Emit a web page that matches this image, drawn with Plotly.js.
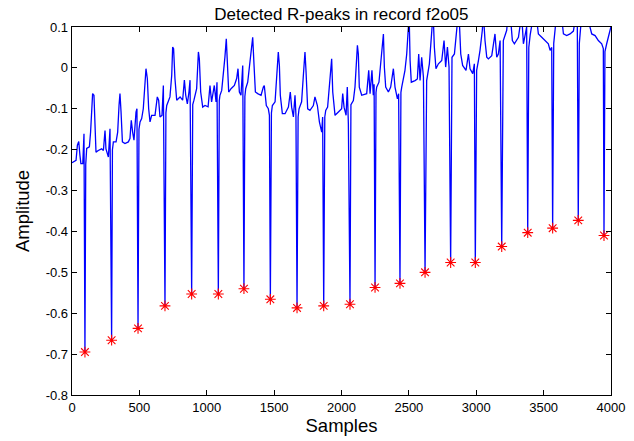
<!DOCTYPE html>
<html>
<head>
<meta charset="utf-8">
<script src="https://cdn.plot.ly/plotly-3.0.1.min.js"></script>
<style>html,body{margin:0;padding:0;background:#fff;}#chart{width:634px;height:441px;}</style>
</head>
<body>
<div id="chart"></div>
<script>
// ECG signal key points
const sigX = [0,15,30,40,50,59,66,80,89,96,102,109,129,138,148,153,163,168,178,195,220,233,245,252,270,282,
294,300,307,327,339,349,356,364,374,393,418,430,440,450,460,475,482,
490,497,505,517,529,539,549,559,569,579,591,616,633,643,653,668,678,
690,697,703,727,740,747,754,764,777,802,821,834,844,856,868,876,
888,896,905,925,938,945,955,970,987,1010,1024,1036,1056,1069,1076,
1086,1093,1098,1111,1123,1135,1145,1153,1163,1180,1205,1222,1232,1242,1254,1267,
1276,1283,1289,1304,1321,1333,1341,1351,1361,1378,1403,1420,1427,1442,1457,1465,
1472,1480,1487,1507,1519,1531,1539,1546,1561,1581,1606,1620,1630,1643,1655,1662,
1670,1678,1685,1704,1717,1729,1737,1749,1766,1791,1803,1821,1836,1853,1860,
1868,1876,1883,1897,1910,1922,1927,1935,1952,1977,2001,2009,2019,2034,2043,2051,
2063,2070,2088,2100,2108,2118,2125,2132,2150,2187,2202,2212,2226,2236,2242,
2249,2256,2261,2278,2291,2303,2311,2318,2328,2348,2365,2385,2397,2415,2424,
2434,2441,2447,2471,2484,2494,2502,2509,2518,2546,2563,2573,2583,2595,2608,
2620,2627,2632,2652,2662,2672,2680,2689,2701,2719,2744,2761,2773,2786,2798,
2810,2816,2820,2838,2855,2867,2875,2885,2899,2924,2942,2954,2974,2986,
2993,3000,3003,3016,3028,3045,3053,3065,3078,3090,3115,3139,3152,3164,3177,
3189,3196,3201,3226,3238,3255,3268,3283,3313,3337,3350,3362,3374,
3382,3390,3400,3420,3440,3455,3461,3486,3511,3535,3548,3560,
3567,3575,3590,3610,3625,3640,3647,3671,3696,3721,3740,3750,
3757,3765,3780,3800,3825,3844,3857,3882,3906,3931,3943,
3948,3955,3968,3980,3993,3999];
const sigY = [-0.232,-0.228,-0.226,-0.189,-0.180,-0.214,-0.234,-0.234,-0.161,-0.695,-0.236,-0.197,-0.193,-0.157,-0.108,-0.063,-0.067,-0.124,-0.206,-0.202,-0.198,-0.202,-0.153,-0.198,-0.218,-0.149,
-0.666,-0.200,-0.181,-0.181,-0.157,-0.092,-0.063,-0.108,-0.181,-0.185,-0.181,-0.173,-0.128,-0.157,-0.177,-0.108,-0.100,
-0.637,-0.150,-0.132,-0.124,-0.100,-0.059,-0.002,-0.026,-0.100,-0.132,-0.116,-0.116,-0.071,-0.079,-0.120,-0.116,-0.043,
-0.582,-0.110,-0.092,-0.071,-0.018,0.051,0.047,-0.026,-0.079,-0.071,-0.079,-0.030,-0.067,-0.088,-0.059,-0.030,
-0.553,-0.090,-0.079,-0.051,0.039,0.022,-0.059,-0.096,-0.092,-0.095,-0.043,-0.083,-0.043,-0.083,-0.035,
-0.553,-0.080,-0.067,-0.055,-0.018,0.027,0.071,0.006,-0.059,-0.051,-0.043,-0.026,-0.002,-0.059,-0.067,0.006,
-0.540,-0.070,-0.051,-0.035,0.014,0.047,0.075,0.006,-0.059,-0.063,-0.067,-0.047,-0.043,-0.092,-0.100,-0.116,
-0.566,-0.110,-0.092,-0.083,-0.026,0.039,0.006,-0.067,-0.112,-0.112,-0.096,-0.059,-0.096,-0.120,-0.067,-0.116,
-0.587,-0.120,-0.100,-0.083,-0.018,0.039,-0.010,-0.100,-0.104,-0.092,-0.071,-0.092,-0.132,-0.157,-0.120,
-0.582,-0.120,-0.104,-0.096,-0.051,-0.002,0.022,-0.059,-0.116,-0.108,-0.100,-0.063,-0.096,-0.116,-0.047,-0.137,
-0.578,-0.090,-0.080,-0.047,0.018,0.055,0.034,-0.047,-0.067,-0.063,-0.006,-0.063,-0.006,-0.067,-0.040,
-0.537,-0.060,-0.047,-0.035,0.010,0.043,0.083,0.002,-0.047,-0.059,-0.047,-0.002,-0.047,-0.076,-0.063,
-0.527,-0.060,-0.047,-0.006,0.034,0.083,0.130,0.018,-0.035,-0.031,-0.027,0.034,-0.031,0.026,-0.023,
-0.500,-0.045,-0.031,0.010,0.067,0.125,0.135,0.051,-0.002,0.010,0.018,0.067,0.002,0.051,0.002,
-0.476,0.000,0.026,0.034,0.083,0.135,0.110,0.034,0.006,-0.006,0.034,-0.002,-0.014,0.010,
-0.476,-0.010,-0.006,0.018,0.043,0.092,0.130,0.067,0.026,0.022,0.030,0.083,0.026,0.034,0.067,
-0.437,0.040,0.067,0.092,0.140,0.120,0.067,0.059,0.075,0.130,0.059,0.079,0.100,
-0.403,0.050,0.080,0.130,0.160,0.100,0.083,0.075,0.067,0.059,0.043,0.050,
-0.392,0.060,0.110,0.108,0.150,0.100,0.083,0.079,0.083,0.090,0.130,0.110,
-0.373,0.060,0.120,0.160,0.120,0.100,0.083,0.079,0.067,0.059,0.047,
-0.410,0.040,0.059,0.075,0.096,0.100];

// Detected R-peaks
const peakX = [96,294,490,690,888,1086,1276,1472,1670,1868,2063,2249,2434,2620,2810,2993,3189,3382,3567,3757,3948];
const peakY = [-0.695,-0.666,-0.637,-0.582,-0.553,-0.553,-0.540,-0.566,-0.587,-0.582,-0.578,-0.537,-0.527,-0.500,-0.476,-0.476,-0.437,-0.403,-0.392,-0.373,-0.410];

// Tick labels
const xTicks = [0,500,1000,1500,2000,2500,3000,3500,4000];
const xTickText = ["0","500","1000","1500","2000","2500","3000","3500","4000"];
const yTicks = [-0.8,-0.7,-0.6,-0.5,-0.4,-0.3,-0.2,-0.1,0,0.1];
const yTickText = ["-0.8","-0.7","-0.6","-0.5","-0.4","-0.3","-0.2","-0.1","0","0.1"];

const font = "Liberation Sans, Arial, Helvetica, sans-serif";

const traces = [
  {x: sigX, y: sigY, type: 'scatter', mode: 'lines',
   line: {color: '#0000ff', width: 1.3}, hoverinfo: 'skip'},
  {x: peakX, y: peakY, type: 'scatter', mode: 'markers',
   marker: {symbol: 'asterisk-open', size: 9, color: '#ff0000', line: {color: '#ff0000', width: 1.1}}}
];

const layout = {
  width: 634, height: 441,
  margin: {l: 72, r: 23, t: 27, b: 46},
  paper_bgcolor: '#fff', plot_bgcolor: '#fff',
  showlegend: false,
  font: {family: font, color: '#000', size: 13},
  title: {text: 'Detected R-peaks in record f2o05', font: {family: font, size: 17, color: '#000'},
          x: 0.5385, xanchor: 'center', y: 0.969, yanchor: 'middle'},
  xaxis: {range: [0, 4000], tickvals: xTicks, ticktext: xTickText,
          ticks: 'inside', ticklen: 5, tickwidth: 1, tickcolor: '#000',
          showline: true, linecolor: '#000', linewidth: 1.3, mirror: 'ticks',
          showgrid: false, zeroline: false,
          tickfont: {family: font, size: 13, color: '#000'},
          title: {text: 'Samples', font: {family: font, size: 18.5, color: '#000'}, standoff: 5}},
  yaxis: {range: [-0.8, 0.1], tickvals: yTicks, ticktext: yTickText,
          ticks: 'inside', ticklen: 5, tickwidth: 1, tickcolor: '#000',
          showline: true, linecolor: '#000', linewidth: 1.3, mirror: 'ticks',
          showgrid: false, zeroline: false,
          tickfont: {family: font, size: 13, color: '#000'},
          title: {text: 'Amplitude', font: {family: font, size: 18.5, color: '#000'}, standoff: 11}}
};

Plotly.newPlot('chart', traces, layout, {displayModeBar: false, staticPlot: true});
</script>
</body>
</html>
